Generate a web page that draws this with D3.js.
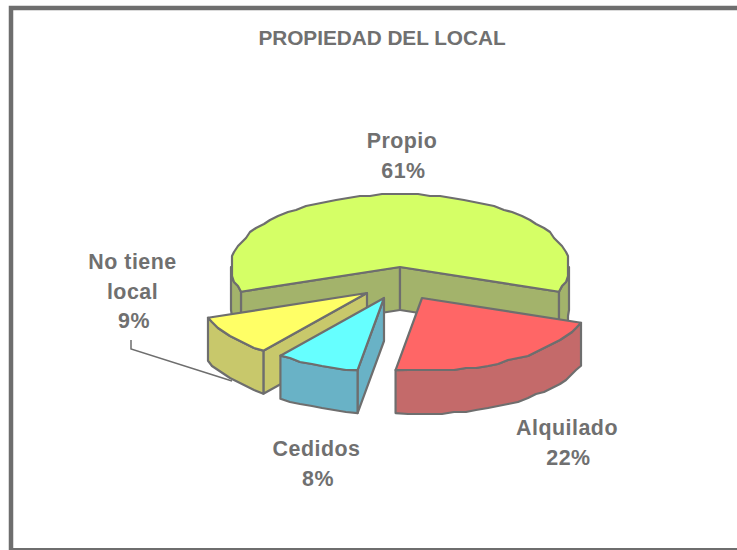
<!DOCTYPE html>
<meta charset="utf-8">
<head>
<style>
html, body { margin: 0; padding: 0; background: #fff; }
svg { display: block; }
text { font-family: "Liberation Sans", Arial, sans-serif; font-weight: bold; fill: #707070; }
</style>
<script src="https://d3js.org/d3.v7.min.js"></script>
</head>
<body>
<div id="chart"></div>
<script>
var title = "PROPIEDAD DEL LOCAL";
var categories = ["Propio", "Alquilado", "Cedidos", "No tiene local"];
var values = [61, 22, 8, 9];
var percentLabels = ["61%", "22%", "8%", "9%"];

var width = 737,
    height = 550,
    cx = 400,
    cy = 267,
    rx = 169,
    ry = 73,
    depth = 43,
    lineColor = "#6e6e6e";

// one entry per category, same order as above
var topColors = ["#d5ff66", "#ff6666", "#66ffff", "#ffff66"];
var wallColors = ["#a3b36b", "#c46a6a", "#69b2c6", "#c8c86b"];
var offsets = [[0, 0], [22, 31], [-16, 31], [-33, 26]];
var nameLines = [["Propio"], ["Alquilado"], ["Cedidos"], ["No tiene", "local"]];
var labelPos = [[402, 148], [567, 435], [316.5, 456], [132.5, 269]];
var drawOrder = [0, 3, 2, 1];

var svg = d3.select("#chart").append("svg")
    .attr("width", width)
    .attr("height", height);

// frame: only left, top and bottom show in the picture
svg.append("path")
    .attr("d", "M11,550V8H737")
    .attr("fill", "none")
    .attr("stroke", lineColor)
    .attr("stroke-width", 4.5);
svg.append("line")
    .attr("x1", 11).attr("x2", 737)
    .attr("y1", 549).attr("y2", 549)
    .attr("stroke", lineColor)
    .attr("stroke-width", 2);

var pie = d3.pie()
    .sort(null)
    .startAngle(-109.8 * Math.PI / 180)
    .endAngle(250.2 * Math.PI / 180);
var slices = pie(values);

var line = d3.line();

function pt(a, off, dz) {
  return [cx + off[0] + rx * Math.sin(a), cy + off[1] - ry * Math.cos(a) + dz];
}

// outer rim as short pieces snapped to a small grid, the original edge is bumpy too
function rim(a0, a1, off, dz) {
  var n = Math.max(1, Math.round((a1 - a0) / (4 * Math.PI / 180)));
  return d3.range(n + 1).map(function(i) {
    var p = pt(a0 + (a1 - a0) * i / n, off, dz);
    if (i === 0 || i === n) return p;
    return [Math.round(p[0] / 2) * 2, Math.round(p[1] / 2) * 2];
  });
}

function paint(d, color) {
  return svg.append("path")
      .attr("d", d)
      .attr("fill", color)
      .attr("stroke", lineColor)
      .attr("stroke-width", 2.2)
      .attr("stroke-linejoin", "round");
}

drawOrder.forEach(function(i) {
  var s = slices[i],
      off = offsets[i],
      apex = [cx + off[0], cy + off[1]],
      apexLow = [apex[0], apex[1] + depth];

  // straight side walls, only when they face down on screen
  [[s.startAngle, 1], [s.endAngle, -1]].forEach(function(e) {
    var p = pt(e[0], off, 0);
    if (-(p[0] - apex[0]) * e[1] > 0) {
      paint(line([apex, p, [p[0], p[1] + depth], apexLow]) + "Z", wallColors[i]);
    }
  });

  // rim wall, front half of the ellipse only
  [[Math.PI / 2, 3 * Math.PI / 2], [-3 * Math.PI / 2, -Math.PI / 2]].forEach(function(front) {
    var a0 = Math.max(s.startAngle, front[0]),
        a1 = Math.min(s.endAngle, front[1]);
    if (a1 > a0) {
      var top = rim(a0, a1, off, 0),
          low = rim(a0, a1, off, depth).reverse();
      paint(line(top.concat(low)) + "Z", wallColors[i]);
    }
  });

  paint(line([apex].concat(rim(s.startAngle, s.endAngle, off, 0))) + "Z", topColors[i]);
});

// leader for "No tiene local"
svg.append("path")
    .attr("d", "M131,340V349L232,381")
    .attr("fill", "none")
    .attr("stroke", lineColor)
    .attr("stroke-width", 1.5);

svg.append("text")
    .attr("x", 382)
    .attr("y", 45)
    .attr("text-anchor", "middle")
    .attr("font-size", 20.8)
    .attr("letter-spacing", -0.05)
    .text(title);

nameLines.forEach(function(lines, i) {
  svg.append("text")
      .attr("text-anchor", "middle")
      .attr("font-size", 21.4)
      .attr("letter-spacing", 0.5)
      .selectAll("tspan")
      .data(lines.concat([percentLabels[i]]))
      .join("tspan")
      .attr("x", function(d, j) { return labelPos[i][0] + (j === lines.length ? 1.5 : 0); })
      .attr("y", function(d, j) { return labelPos[i][1] + j * 29.5; })
      .text(function(d) { return d; });
});
</script>
</body>
